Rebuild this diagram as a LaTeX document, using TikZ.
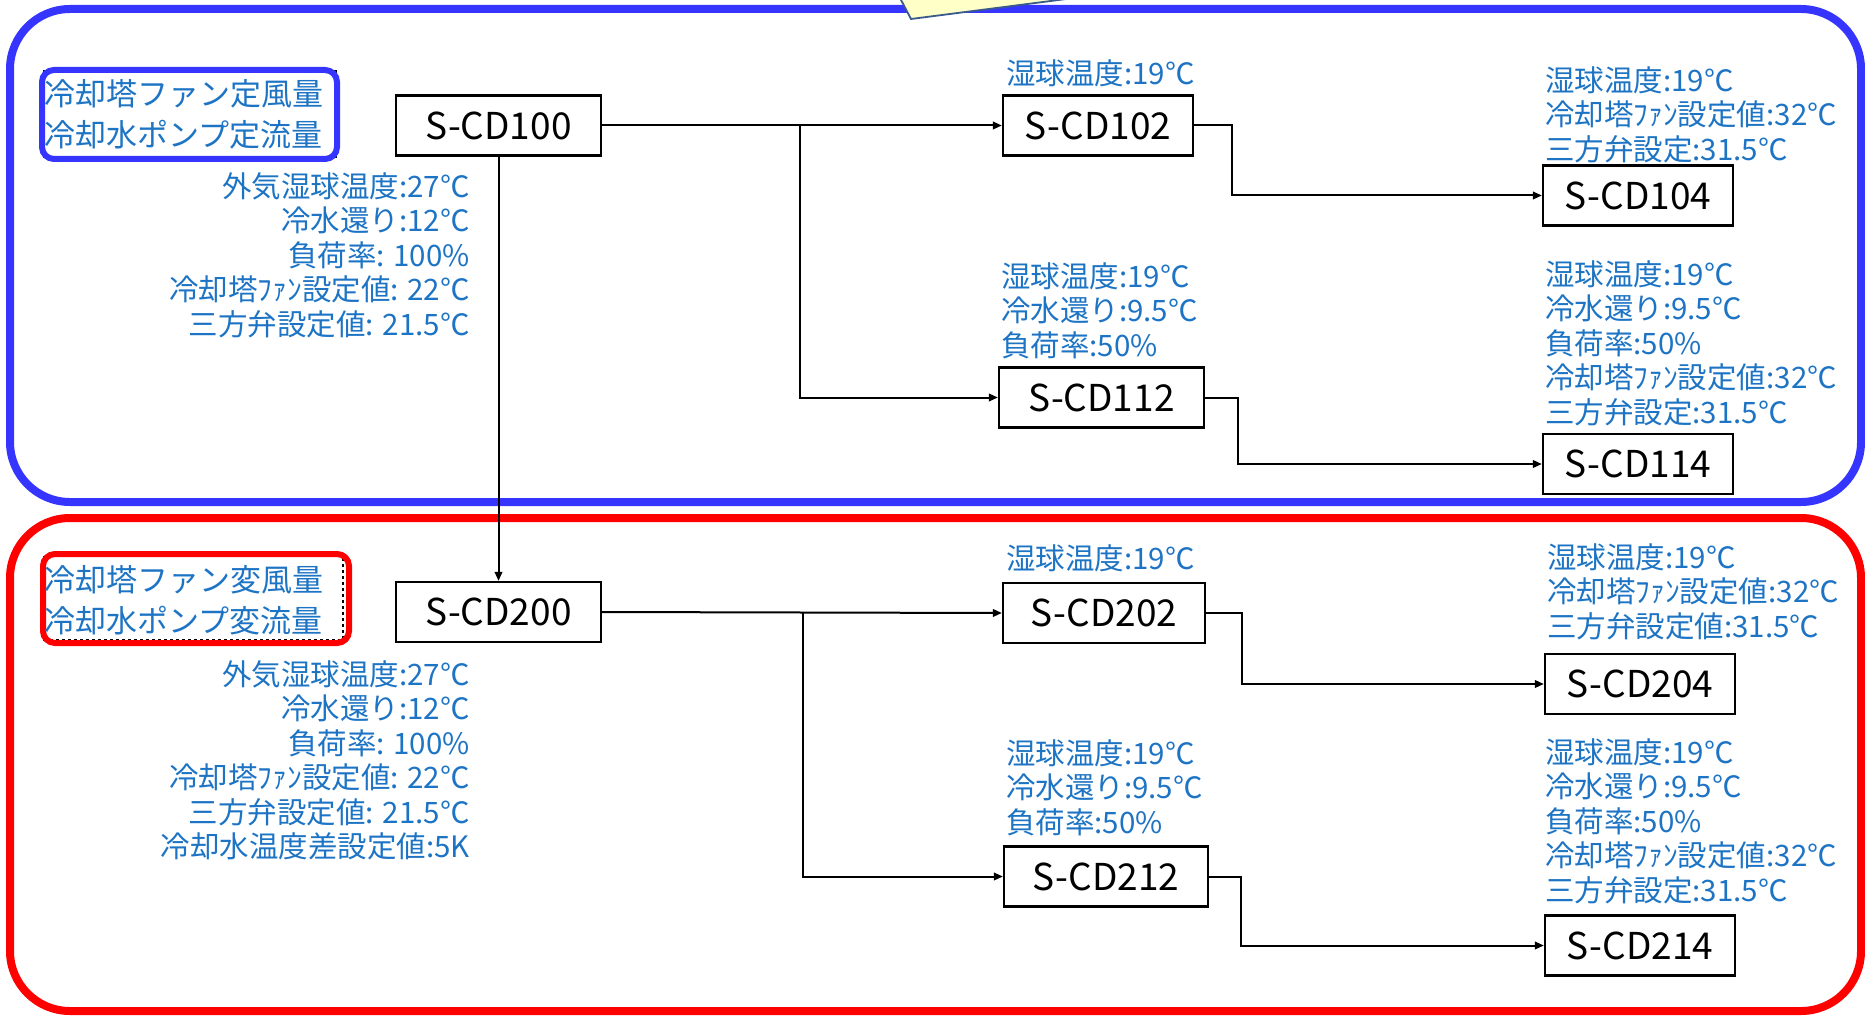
\documentclass[tikz,border=0pt]{standalone}
\usepackage{fontspec}
\setmainfont{Noto Sans CJK JP}
\usetikzlibrary{arrows.meta}
\definecolor{lblue}{HTML}{1E74C4}
\definecolor{fblue}{HTML}{3535FF}
\definecolor{fred}{HTML}{FF0000}
\definecolor{cyell}{HTML}{FFFFC8}
\definecolor{cedge}{HTML}{3A5A8C}
\tikzset{
  frame/.style={line width=8pt,rounded corners=60pt},
  cdbox/.style={draw,line width=2.2pt,minimum width=#1,minimum height=60pt,inner sep=0pt,font=\fontsize{37}{37}\selectfont},
  cdbox/.default=190pt,
  lbl/.style={text=lblue,inner sep=0pt,align=left,anchor=north west,font=\fontsize{29.5}{34.5}\selectfont},
  lblr/.style={text=lblue,inner sep=0pt,align=right,anchor=north east,font=\fontsize{29.5}{34.5}\selectfont},
  head/.style={text=lblue,inner sep=0pt,align=left,anchor=north west,font=\fontsize{31}{41}\selectfont},
  arr/.style={line width=2pt,-{Triangle[length=9pt,width=7.5pt]}},
}
\begin{document}
\begin{tikzpicture}[x=1pt,y=-1pt]
\useasboundingbox (0,0) rectangle (1865,1016);
% frames
\draw[frame,fblue] (10,9) rectangle (1861,502);
\draw[frame,fred] (10,518) rectangle (1861,1011);
% callout fragment at top
\draw[cedge,line width=1.8pt,fill=cyell] (900,-2) -- (911,19) -- (1074,-2) -- cycle;
% headings
\draw[line width=1.4pt] (44,71) rectangle (336,157);
\draw[fblue,line width=6pt,rounded corners=12pt] (42,70) rectangle (337,159);
\node[head] (h1) at (44,79) {冷却塔ファン定風量\\冷却水ポンプ定流量};
\draw[line width=1.4pt,dashed] (44,556) rectangle (343,640);
\draw[fred,line width=6pt,rounded corners=12pt] (43,554) rectangle (349,643);
\node[head] (h2) at (44,565) {冷却塔ファン変風量\\冷却水ポンプ変流量};
% boxes
\node[cdbox=205pt] (n100) at (498.5,125.5) {S-CD100};
\node[cdbox] (n102) at (1098,125.5) {S-CD102};
\node[cdbox] (n104) at (1638,195.5) {S-CD104};
\node[cdbox=205pt] (n112) at (1101.5,397.5) {S-CD112};
\node[cdbox] (n114) at (1638,464) {S-CD114};
\node[cdbox=205pt] (n200) at (498.5,612) {S-CD200};
\node[cdbox=202pt] (n202) at (1104,613) {S-CD202};
\node[cdbox] (n204) at (1640,684) {S-CD204};
\node[cdbox=204pt] (n212) at (1106,876.5) {S-CD212};
\node[cdbox] (n214) at (1640,945.5) {S-CD214};
% labels
\node[lblr] (l100) at (470,172) {外気湿球温度:27℃\\冷水還り:12℃\\負荷率: 100\%\\冷却塔ﾌｧﾝ設定値: 22℃\\三方弁設定値: 21.5℃};
\node[lblr] (l200) at (470,660) {外気湿球温度:27℃\\冷水還り:12℃\\負荷率: 100\%\\冷却塔ﾌｧﾝ設定値: 22℃\\三方弁設定値: 21.5℃\\冷却水温度差設定値:5K};
\node[lbl] (l102) at (1006,59) {湿球温度:19℃};
\node[lbl] (l104) at (1545,66) {湿球温度:19℃\\冷却塔ﾌｧﾝ設定値:32℃\\三方弁設定:31.5℃};
\node[lbl] (l112) at (1001,262) {湿球温度:19℃\\冷水還り:9.5℃\\負荷率:50\%};
\node[lbl] (l114) at (1545,260) {湿球温度:19℃\\冷水還り:9.5℃\\負荷率:50\%\\冷却塔ﾌｧﾝ設定値:32℃\\三方弁設定:31.5℃};
\node[lbl] (l202) at (1006,544) {湿球温度:19℃};
\node[lbl] (l204) at (1547,543) {湿球温度:19℃\\冷却塔ﾌｧﾝ設定値:32℃\\三方弁設定値:31.5℃};
\node[lbl] (l212) at (1006,739) {湿球温度:19℃\\冷水還り:9.5℃\\負荷率:50\%};
\node[lbl] (l214) at (1545,738) {湿球温度:19℃\\冷水還り:9.5℃\\負荷率:50\%\\冷却塔ﾌｧﾝ設定値:32℃\\三方弁設定:31.5℃};
% connectors
\coordinate (b1) at (800,125.5);
\coordinate (b2) at (803,612.5);
\draw[arr] (n100.east) -- (n102.west);
\draw[arr] (b1) |- (n112.west);
\draw[arr] (n102.east) -- ++(38,0) |- (n104.west);
\draw[arr] (n112.east) -- ++(33,0) |- (n114.west);
\draw[arr] (n100.south) -- (n200.north);
\draw[arr] (n200.east) -- (n202.west);
\draw[arr] (b2) |- (n212.west);
\draw[arr] (n202.east) -- ++(36,0) |- (n204.west);
\draw[arr] (n212.east) -- ++(32,0) |- (n214.west);
\end{tikzpicture}
\end{document}
